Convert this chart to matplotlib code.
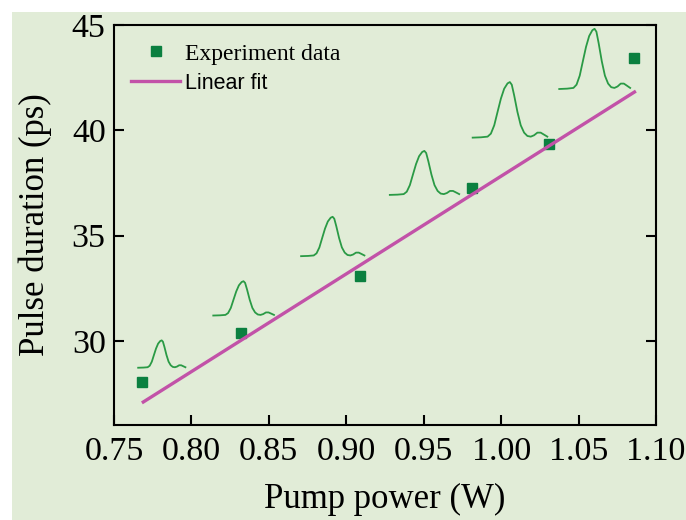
import numpy as np
import matplotlib
matplotlib.use("Agg")
import matplotlib.pyplot as plt
from matplotlib.patches import Rectangle
from matplotlib.lines import Line2D

# measured points
power = [0.768, 0.832, 0.909, 0.981, 1.031, 1.086]
duration = [28.06, 30.38, 33.09, 37.28, 39.34, 43.43]

# linear fit line endpoints
fit_x = [0.768, 1.087]
fit_y = [27.05, 41.86]

# normalised autocorrelation trace shape
pulse_u = [0.0, 0.111, 0.2, 0.244, 0.289, 0.333, 0.378, 0.422, 0.467, 0.498,
           0.524, 0.556, 0.6, 0.644, 0.689, 0.733, 0.778, 0.822, 0.867, 0.911,
           0.956, 1.0]
pulse_v = [0.0, 0.006, 0.018, 0.072, 0.222, 0.461, 0.701, 0.880, 0.976, 1.0,
           0.952, 0.760, 0.461, 0.222, 0.090, 0.030, 0.018, 0.042, 0.090, 0.090,
           0.054, 0.018]

# inset trace placement (left x, baseline y, width, height) in data units
pulse_x0 = [0.7656, 0.8141, 0.8708, 0.9281, 0.9816, 1.0375]
pulse_y0 = [28.72, 31.20, 34.02, 36.93, 39.65, 41.96]
pulse_w = [0.0305, 0.0392, 0.0409, 0.0448, 0.0482, 0.0458]
pulse_h = [1.30, 1.63, 1.87, 2.09, 2.64, 2.86]

xticks = [0.75, 0.80, 0.85, 0.90, 0.95, 1.00, 1.05, 1.10]
yticks = [30, 35, 40, 45]

bg = "#e1ecd7"
serif = "Liberation Serif"

fig = plt.figure(figsize=(6.86, 5.2), dpi=100, facecolor="white")
fig.patches.append(Rectangle((12 / 686, 0), 1, 1 - 12 / 520, transform=fig.transFigure,
                             facecolor=bg, edgecolor="none", zorder=-10))

ax = fig.add_axes([0.1662, 0.1827, 0.7901, 0.7692])
ax.set_zorder(2)
ax.set_facecolor("none")

u = np.array(pulse_u)
v = np.array(pulse_v)
for x0, y0, w, h in zip(pulse_x0, pulse_y0, pulse_w, pulse_h):
    ax.plot(x0 + u * w, y0 + v * h, color="#2a9a45", lw=1.3, zorder=2)

ax.plot(power, duration, "s", color="#0b8040", ms=6.7, zorder=3)
ax.plot(fit_x, fit_y, color="#c252a8", lw=2.4, zorder=4, solid_capstyle="butt")

ax.set_xlim(0.75, 1.10)
ax.set_ylim(26, 45)
ax.set_xticks(xticks)
ax.set_xticklabels([f"{t:.2f}" for t in xticks])
ax.set_yticks(yticks)

for s in ax.spines.values():
    s.set_linewidth(1.5)
ax.tick_params(axis="x", direction="in", length=7, width=1.5, labelsize=24.5, pad=8, top=False)
ax.tick_params(axis="y", direction="in", length=7, width=1.5, labelsize=24.5, pad=6, right=True)
for lab in ax.get_xticklabels() + ax.get_yticklabels():
    lab.set_family(serif)

ax.set_xlabel("Pump power (W)", family=serif, fontsize=25, labelpad=12)
ax.set_ylabel("Pulse duration (ps)", family=serif, fontsize=25, labelpad=14)

handles = [Line2D([], [], ls="none", marker="s", color="#0b8040", ms=6.7),
           Line2D([], [], color="#c252a8", lw=2.4)]
leg = ax.legend(handles, ["Experiment data", "Linear fit"], loc="upper left",
                bbox_to_anchor=(0.031, 0.955), frameon=False, handlelength=2.1,
                handletextpad=0.2, labelspacing=0.35, fontsize=17, borderaxespad=0,
                borderpad=0)
leg.get_texts()[0].set_family(serif)
leg.get_texts()[1].set_family("Liberation Sans")
leg.get_texts()[1].set_fontsize(15.5)

fig.savefig("out.png", dpi=100, facecolor="white")
